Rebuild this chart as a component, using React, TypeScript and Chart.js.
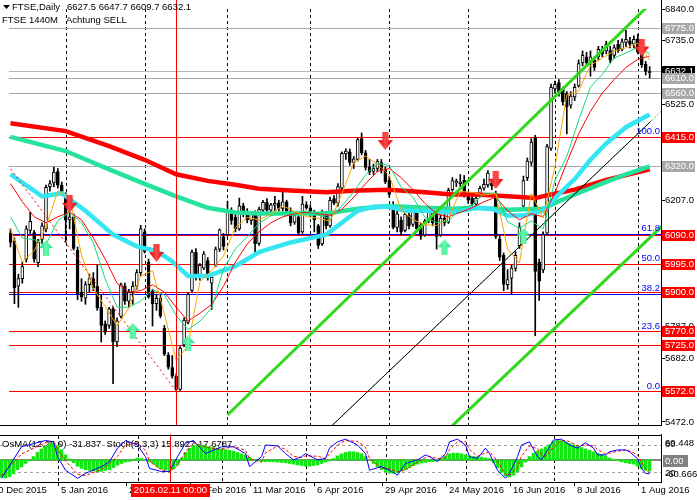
import React, { useEffect, useRef } from "react";
import { Chart, registerables } from "chart.js";
Chart.register(...registerables);

// ---------------- data ----------------
const opens = [
6095,6070,5920,5945,6010,6105,6098,5998,6075,6110,
6250,6262,6300,6255,6225,6140,6150,6040,5900,5880,
5925,5945,5920,5850,5795,5790,5845,5735,5820,5920,
5870,5900,5920,5965,6100,6000,5905,5862,5880,5780,
5692,5650,5622,5578,5725,5800,5906,6033,5948,5980,
6005,5930,5990,6043,6084,6091,6164,6148,6110,6186,
6165,6138,6158,6062,6172,6198,6172,6188,6196,6178,
6200,6170,6132,6150,6100,6190,6180,6165,6120,6060,
6160,6120,6210,6195,6245,6358,6365,6330,6340,6409,
6362,6315,6300,6310,6330,6304,6272,6180,6115,6138,
6105,6155,6125,6165,6122,6090,6138,6165,6160,6090,
6145,6132,6240,6262,6260,6271,6225,6212,6192,6222,
6245,6256,6262,6223,6075,6022,5925,5947,5979,6054,
6185,6280,6330,6414,6000,5974,6096,6377,6574,6595,
6574,6558,6520,6547,6584,6660,6680,6662,6669,6680,
6705,6700,6701,6685,6722,6705,6728,6733,6722,6740,
6690,6655,6627.5];
const highs = [
6110,6080,5960,6000,6120,6165,6105,6075,6130,6255,
6270,6315,6310,6265,6230,6175,6160,6050,5945,5935,
5960,5965,5990,5890,5805,5850,5852,5815,5930,5930,
5910,5935,5975,6122,6110,6010,5910,5890,5890,5790,
5700,5690,5630,5720,5815,5898,6040,6045,5995,6035,
6015,5960,6050,6110,6095,6202,6180,6160,6212,6195,
6177,6165,6170,6182,6205,6210,6195,6218,6205,6234,
6205,6180,6165,6155,6218,6200,6190,6172,6125,6172,
6168,6215,6220,6260,6365,6375,6375,6350,6410,6428,
6370,6340,6325,6340,6340,6315,6285,6200,6170,6150,
6170,6165,6175,6172,6130,6142,6178,6175,6170,6155,
6168,6245,6280,6275,6290,6287,6232,6220,6222,6252,
6275,6303,6275,6235,6090,6030,5975,5990,6035,6130,
6285,6345,6409,6420,6010,6100,6390,6590,6600,6605,
6580,6565,6565,6590,6670,6700,6695,6700,6680,6715,
6715,6732,6715,6720,6735,6740,6769,6745,6750,6755,
6698,6665,6647.7];
const lows = [
6050,5862,5850,5930,6000,6095,6000,5985,6060,6100,
6235,6250,6245,6220,6065,6110,6040,5875,5870,5860,
5900,5905,5840,5735,5760,5780,5597,5720,5815,5860,
5850,5860,5910,5955,6030,5880,5788,5840,5815,5690,
5645,5615,5572,5575,5720,5795,5900,5940,5940,5975,
5940,5843,5985,6035,6040,6085,6125,6100,6105,6150,
6130,6125,6027,6055,6160,6165,6155,6170,6170,6170,
6160,6120,6125,6090,6095,6175,6150,6100,6045,6055,
6110,6115,6190,6185,6240,6340,6320,6310,6335,6355,
6305,6290,6290,6300,6295,6260,6215,6110,6100,6090,
6100,6110,6118,6100,6075,6085,6130,6120,6043,6085,
6120,6128,6235,6250,6250,6215,6195,6180,6185,6215,
6238,6248,6240,6078,6005,5905,5910,5894,5970,6045,
6175,6270,6320,5756,5873,5965,6090,6370,6560,6550,
6520,6425,6510,6535,6580,6650,6650,6616,6635,6670,
6680,6690,6660,6675,6695,6700,6715,6710,6710,6690,
6645,6620,6609.7];
const closes = [
6065,5915,5945,5985,6110,6135,6010,6065,6120,6248,
6260,6298,6255,6228,6140,6150,6045,5895,5885,5925,
5945,5915,5848,5790,5768,5845,5735,5805,5925,5870,
5900,5920,5965,6110,6035,5885,5862,5880,5822,5695,
5652,5622,5578,5715,5808,5893,6033,5948,5989,6027,
5947,5950,6043,6107,6052,6170,6138,6110,6186,6165,
6140,6158,6060,6175,6198,6172,6190,6195,6178,6200,
6170,6130,6155,6097,6192,6180,6160,6140,6055,6160,
6120,6205,6195,6250,6360,6368,6330,6342,6406,6362,
6314,6298,6310,6335,6305,6266,6224,6115,6160,6100,
6158,6120,6168,6110,6086,6135,6168,6130,6085,6145,
6130,6238,6270,6268,6266,6223,6205,6192,6212,6244,
6258,6295,6252,6085,6016,5926,5942,5980,6022,6117,
6270,6335,6398,5969,5937,6091,6383,6579,6589,6558,
6531,6515,6550,6579,6658,6685,6660,6680,6645,6705,
6690,6722,6669,6711,6701,6730,6738,6722,6738,6696,
6653,6632,6632.1];

// thin moving averages (sampled)
const maThinIdx = [0,3,6,9,12,15,18,21,24,27,30,33,36,39,42,45,48,51,54,57,60,63,66,69,72,75,78,81,84,87,90,93,96,99,102,105,108,111,114,117,120,123,126,129,132,135,138,141,144,147,150,153,156,159,162];
const maFast = [6110,6000,6037,6116,6236,6214,6023,5913,5853,5789,5847,5953,5971,5829,5674,5723,5934,5972,6020,6115,6148,6140,6159,6187,6167,6151,6145,6136,6226,6330,6351,6324,6288,6173,6141,6124,6121,6146,6234,6231,6222,6227,6044,5997,6228,6146,6316,6554,6567,6652,6676,6699,6710,6725,6670];
const maMid = [6150,6080,6074,6058,6137,6165,6130,6064,5944,5851,5850,5871,5909,5891,5823,5776,5804,5848,5977,6044,6084,6128,6154,6164,6163,6169,6156,6144,6186,6233,6289,6327,6320,6249,6215,6149,6131,6135,6178,6189,6228,6229,6133,6112,6136,6110,6272,6350,6470,6580,6622,6676,6693,6712,6690];
const maSlow = [6260,6200,6150,6130,6150,6165,6140,6080,6010,5930,5900,5905,5925,5900,5850,5805,5830,5860,5920,6000,6060,6100,6130,6150,6160,6165,6160,6155,6175,6215,6260,6300,6310,6280,6240,6195,6160,6150,6165,6180,6200,6215,6170,6140,6160,6150,6230,6330,6425,6500,6560,6605,6645,6672,6683];

// thick moving averages
const ma200Idx = [0,14,25,34,42,50,57,63,71,80,88,96,105,112,118,126,133,137,143,151,156,162];
const ma200 = [6460,6434,6384,6339,6291,6269,6256,6243,6237,6231,6237,6240,6231,6224,6224,6218,6212,6224,6240,6272,6288,6307];
const ma100Idx = [0,14,25,34,42,50,57,63,71,80,88,96,105,112,118,126,135,139,143,151,156,162];
const ma100 = [6415,6368,6307,6259,6218,6180,6164,6161,6161,6161,6177,6186,6180,6177,6180,6173,6177,6202,6224,6266,6291,6317];
const ma50Idx = [0,8,13,19,26,32,37,41,45,50,57,63,71,80,88,92,96,100,105,112,118,122,126,130,135,138,143,147,151,156,162];
const ma50 = [6291,6218,6228,6170,6091,6052,6037,6002,5954,5954,5986,6033,6065,6091,6170,6183,6183,6170,6170,6164,6180,6177,6154,6154,6170,6212,6275,6339,6393,6447,6489];

// trend lines
const chUpperIdx = [55, 166];
const chUpperVal = [5493, 6905];
const chLowerIdx = [112, 166];
const chLowerVal = [5458, 6130];
const midLineIdx = [81, 162.25];
const midLineVal = [5452, 6466];
const midExtIdx = [81, 166];
const midExtVal = [5452, 6513];
const fibDiagIdx = [-6, 42];
const fibDiagVal = [6415, 5572];

// signals
const sellIdx = [15, 37, 95, 123, 160];
const sellVal = [6193, 6030, 6401, 6272, 6711];
const buyIdx = [9, 31, 45, 110, 130];
const buyVal = [6046, 5772, 5731, 6049, 6087];

// oscillators
const osma = [
-50,-52,-48,-40,-28,-20,-10,-2,10,22,32,40,47,49,42,30,15,3,-8,
-18,-24,-28,-30,-32,-34,-33,-30,-28,-22,-15,-10,-6,-4,2,6,4,0,-5,
-12,-20,-26,-29,-30,-26,-15,5,22,34,42,44,43,41,38,36,34,32,30,28,26,
22,18,14,8,2,-2,-4,-5,-5,-5,-6,-7,-8,-10,-12,-14,-16,-18,-18,-16,-14,-10,-6,-2,4,
12,18,22,24,24,22,18,10,0,-10,-20,-28,-34,-38,-38,-36,-32,-28,-22,-16,
-12,-9,-7,-5,-4,-2,4,12,18,20,20,18,15,12,10,10,8,6,4,
-8,-22,-36,-46,-49,-44,-34,-20,-6,10,20,26,32,38,44,
54,58,56,52,48,44,40,36,32,28,24,20,16,12,6,2,-2,-5,-8,-10,-12,-18,-25,-30,-32];
const stochIdx = [0,5,11,13,14,16,19,21,25,27,29,31,34,36,37,40,42,44,46,48,51,55,58,61,62,65,66,69,71,73,75,76,79,81,82,84,86,89,91,92,95,97,99,101,104,106,107,109,111,112,114,116,117,119,121,122,124,126,127,129,130,132,134,135,136,138,140,142,144,146,148,149,151,152,154,156,157,159,160,161,162];
const stochMain = [6,76,90,87,54,24,6,17,32,43,73,90,80,54,28,21,21,54,84,90,61,76,76,61,32,54,80,78,61,47,54,61,47,50,73,87,93,80,61,24,32,24,13,39,47,58,54,43,61,87,93,80,54,50,73,61,24,6,17,54,80,87,54,47,61,91,93,80,73,85,73,58,58,65,69,69,65,50,28,17,15.9];
const stochSignal = [12,60,85,88,70,45,15,12,26,38,55,80,85,68,45,25,20,35,65,85,75,70,77,68,50,42,62,78,70,55,52,56,55,50,60,80,90,88,75,50,28,28,20,25,42,52,55,50,52,70,87,88,70,55,62,65,45,15,12,30,55,78,72,58,55,75,90,88,78,80,78,70,60,62,66,69,67,58,42,28,17.7];

// levels & labels
const axisTicks = [6840, 6735, 6525, 6207, 5787, 5682, 5472];
const grayLevels = [6775, 6610, 6560, 6320];
const redLevels = [6415, 6090, 5995, 5900, 5770, 5725, 5572];
const fibValues = [6415, 6093, 5993.5, 5894, 5770.9, 5572];
const fibLabels = ["100.0", "61.8", "50.0", "38.2", "23.6", "0.0"];
const lastPrice = 6632.1;
const gridIdx = [14, 34, 55, 76, 96, 116, 138, 159];
const dateTickIdx = [-3, 14, 31, 47, 62, 78, 95, 111, 127, 143, 159];
const dateLabels = ["10 Dec 2015", "5 Jan 2016", "27 Jan 2016", "19 Feb 2016", "11 Mar 2016", "6 Apr 2016", "29 Apr 2016", "24 May 2016", "16 Jun 2016", "8 Jul 2016", "1 Aug 2016"];
const crossIdx = 42;
const crossLabel = "2016.02.11 00:00";
const titleMain = "FTSE,Daily";
const titleOhlc = "6627.5 6647.7 6609.7 6632.1";
const titleSub1 = "FTSE 1440M";
const titleSub2 = "Achtung SELL";
const oscTitle = "OsMA(12,26,9) -31.837  Stoch(5,3,3) 15.8927 17.6787";

const X_MIN = -0.375;
const X_MAX = 164.875;
const Y_MIN = 5460;
const Y_MAX = 6838.7;
const FONT = "9.5px 'Liberation Sans', Arial, sans-serif";

function makeArrow(dir: "up" | "down", c1: string, c2: string) {
  const c = document.createElement("canvas");
  const w = dir === "down" ? 15 : 14;
  const h = dir === "down" ? 18 : 16;
  c.width = w;
  c.height = h;
  const g = c.getContext("2d")!;
  const grad = g.createLinearGradient(0, 0, w, 0);
  grad.addColorStop(0, c1);
  grad.addColorStop(0.5, c2);
  grad.addColorStop(1, c1);
  g.fillStyle = grad;
  g.beginPath();
  if (dir === "down") {
    g.moveTo(4.5, 0); g.lineTo(10.5, 0); g.lineTo(10.5, 8); g.lineTo(15, 8);
    g.lineTo(7.5, 18); g.lineTo(0, 8); g.lineTo(4.5, 8);
  } else {
    g.moveTo(7, 0); g.lineTo(14, 8); g.lineTo(10, 8); g.lineTo(10, 16);
    g.lineTo(4, 16); g.lineTo(4, 8); g.lineTo(0, 8);
  }
  g.closePath();
  g.fill();
  return c;
}

const pts = (xs: number[], ys: number[]) => xs.map((x, i) => ({ x, y: ys[i] }));
const lineDs = (xs: number[], ys: number[], color: string, width: number, order: number, extra: any = {}) => ({
  type: "line",
  data: pts(xs, ys),
  borderColor: color,
  borderWidth: width,
  pointRadius: 0,
  tension: 0,
  fill: false,
  order,
  ...extra,
});

export default function App() {
  const mainRef = useRef<HTMLCanvasElement>(null);
  const subRef = useRef<HTMLCanvasElement>(null);

  useEffect(() => {
    document.body.style.margin = "0";
    const idx = opens.map((_, i) => i);
    const arrowDown = makeArrow("down", "#e00000", "#ff4a4a");
    const arrowUp = makeArrow("up", "#14d878", "#6dfab4");

    const mainDecor = {
      id: "mainDecor",
      beforeDatasetsDraw(chart: any) {
        const { ctx, chartArea: a, scales } = chart;
        const x = scales.x, y = scales.y;
        ctx.save();
        ctx.strokeStyle = "#000";
        ctx.lineWidth = 1;
        ctx.setLineDash([3, 3]);
        gridIdx.forEach((g) => {
          const px = Math.round(x.getPixelForValue(g)) + 0.5;
          ctx.beginPath(); ctx.moveTo(px, a.top); ctx.lineTo(px, a.bottom); ctx.stroke();
        });
        ctx.setLineDash([]);
        const hline = (v: number, color: string) => {
          const py = Math.round(y.getPixelForValue(v)) + 0.5;
          ctx.strokeStyle = color;
          ctx.beginPath(); ctx.moveTo(a.left, py); ctx.lineTo(a.right, py); ctx.stroke();
        };
        grayLevels.forEach((v) => hline(v, "#a8a8a8"));
        hline(lastPrice, "#b8b8b8");
        fibValues.forEach((v) => hline(v, "#0000ff"));
        redLevels.forEach((v) => hline(v, "#ff0000"));
        ctx.restore();
      },
      afterDatasetsDraw(chart: any) {
        const { ctx, chartArea: a, scales } = chart;
        const x = scales.x, y = scales.y;
        ctx.save();
        // crosshair
        const cx = Math.round(x.getPixelForValue(crossIdx)) + 0.5;
        ctx.strokeStyle = "#ff0000"; ctx.lineWidth = 1;
        ctx.beginPath(); ctx.moveTo(cx, 0); ctx.lineTo(cx, a.bottom); ctx.stroke();
        ctx.font = FONT;
        // fib labels
        ctx.fillStyle = "#0000ff"; ctx.textAlign = "right"; ctx.textBaseline = "bottom";
        fibValues.forEach((v, i) => {
          ctx.fillText(fibLabels[i], a.right - 1, y.getPixelForValue(v) - 0.5);
        });
        // frames
        ctx.fillStyle = "#000";
        ctx.fillRect(a.right, 0, 1, a.bottom + 1);
        ctx.fillRect(0, a.bottom, a.right + 1, 1);
        // axis ticks
        ctx.textAlign = "left"; ctx.textBaseline = "middle";
        axisTicks.forEach((v) => {
          const py = y.getPixelForValue(v);
          ctx.fillRect(a.right + 1, Math.round(py), 3, 1);
          ctx.fillText(v.toFixed(1), a.right + 4, py + 0.5);
        });
        const box = (v: number, bg: string) => {
          const py = Math.round(y.getPixelForValue(v));
          ctx.fillStyle = bg;
          ctx.fillRect(a.right + 1, py - 5, 33, 11);
          ctx.fillStyle = "#fff";
          ctx.fillText(v.toFixed(1), a.right + 4, py + 0.5);
        };
        box(lastPrice, "#000");
        grayLevels.forEach((v) => box(v, "#a8a8a8"));
        redLevels.forEach((v) => box(v, "#ff0000"));
        // title text
        ctx.fillStyle = "#000";
        ctx.beginPath(); ctx.moveTo(3, 5); ctx.lineTo(10, 5); ctx.lineTo(6.5, 9); ctx.closePath(); ctx.fill();
        ctx.fillText(titleMain, 12, 7);
        ctx.fillText(titleOhlc, 67, 7);
        ctx.fillText(titleSub1, 2, 20);
        ctx.fillText(titleSub2, 66, 20);
        ctx.restore();
      },
    };

    const main = new Chart(mainRef.current!, {
      type: "bar",
      data: {
        datasets: [
          {
            type: "bar",
            data: idx.map((i) => ({ x: i, y: [lows[i], highs[i]] })),
            backgroundColor: "#000",
            barThickness: 1,
            grouped: false,
            order: 30,
          } as any,
          {
            type: "bar",
            data: idx.map((i) => ({ x: i, y: [opens[i], closes[i]] })),
            backgroundColor: idx.map((i) => (closes[i] >= opens[i] ? "#ffffff" : "#000000")),
            borderColor: "#000",
            borderWidth: 1,
            borderSkipped: false,
            barThickness: 3,
            minBarLength: 1,
            grouped: false,
            order: 29,
          } as any,
          lineDs(ma200Idx, ma200, "#ff0000", 4.5, 20),
          lineDs(ma100Idx, ma100, "#25e39c", 4.5, 19),
          lineDs(ma50Idx, ma50, "#33e6f2", 4.5, 18),
          lineDs(midExtIdx, midExtVal, "#22cc22", 1, 16, { borderDash: [2, 2] }),
          lineDs(midLineIdx, midLineVal, "#000000", 1, 15),
          lineDs(chUpperIdx, chUpperVal, "#2ed91a", 3, 14),
          lineDs(chLowerIdx, chLowerVal, "#2ed91a", 3, 13),
          lineDs(fibDiagIdx, fibDiagVal, "#ff0000", 1, 12, { borderDash: [2, 3] }),
          lineDs(maThinIdx, maSlow, "#ff0000", 1, 7),
          lineDs(maThinIdx, maMid, "#10dd78", 1, 6),
          lineDs(maThinIdx, maFast, "#ffa500", 1, 5),
          {
            type: "line",
            data: pts(sellIdx, sellVal),
            showLine: false,
            pointStyle: arrowDown,
            pointRadius: 8,
            order: 1,
          } as any,
          {
            type: "line",
            data: pts(buyIdx, buyVal),
            showLine: false,
            pointStyle: arrowUp,
            pointRadius: 8,
            order: 1,
          } as any,
        ] as any,
      },
      options: {
        animation: false,
        responsive: false,
        events: [],
        layout: { padding: { left: 0, right: 36, top: 0, bottom: 1 } },
        scales: {
          x: { type: "linear", min: X_MIN, max: X_MAX, display: false, offset: false },
          y: { type: "linear", min: Y_MIN, max: Y_MAX, display: false },
        },
        plugins: { legend: { display: false }, tooltip: { enabled: false } },
      } as any,
      plugins: [mainDecor as any],
    });

    const subDecor = {
      id: "subDecor",
      beforeDatasetsDraw(chart: any) {
        const { ctx, chartArea: a, scales } = chart;
        const x = scales.x, yO = scales.yO, yS = scales.yS;
        ctx.save();
        ctx.strokeStyle = "#000"; ctx.lineWidth = 1; ctx.setLineDash([3, 3]);
        gridIdx.forEach((g) => {
          const px = Math.round(x.getPixelForValue(g)) + 0.5;
          ctx.beginPath(); ctx.moveTo(px, a.top); ctx.lineTo(px, a.bottom + 1); ctx.stroke();
        });
        ctx.strokeStyle = "#a0a0a0";
        [80, 20].forEach((v) => {
          const py = Math.round(yS.getPixelForValue(v)) + 0.5;
          ctx.beginPath(); ctx.moveTo(a.left, py); ctx.lineTo(a.right, py); ctx.stroke();
        });
        ctx.setLineDash([]);
        const zy = Math.round(yO.getPixelForValue(0));
        ctx.strokeStyle = "#888888"; ctx.lineWidth = 2;
        ctx.beginPath(); ctx.moveTo(a.left, zy); ctx.lineTo(a.right, zy); ctx.stroke();
        ctx.font = FONT; ctx.fillStyle = "#000"; ctx.textBaseline = "middle"; ctx.textAlign = "left";
        ctx.fillText(oscTitle, 2, 10);
        ctx.restore();
      },
      afterDatasetsDraw(chart: any) {
        const { ctx, chartArea: a, scales } = chart;
        const x = scales.x;
        ctx.save();
        const cx = Math.round(x.getPixelForValue(crossIdx)) + 0.5;
        ctx.strokeStyle = "#ff0000"; ctx.lineWidth = 1;
        ctx.beginPath(); ctx.moveTo(cx, 0); ctx.lineTo(cx, a.bottom + 1); ctx.stroke();
        ctx.fillStyle = "#000";
        ctx.fillRect(0, 1, a.right + 1, 1);
        ctx.fillRect(0, a.bottom + 1, a.right + 1, 1);
        ctx.fillRect(a.right, 0, 1, a.bottom + 2);
        ctx.font = FONT; ctx.textBaseline = "middle"; ctx.textAlign = "left";
        // right labels
        ctx.fillText("80", a.right + 4, 10);
        ctx.fillText("69.448", a.right + 4, 9);
        ctx.fillText("20", a.right + 4, 39);
        ctx.fillText("-60.666", a.right + 4, 40);
        ctx.fillStyle = "#808080";
        ctx.fillRect(a.right + 2, 21, 25, 12);
        ctx.fillStyle = "#fff";
        ctx.fillText("0.00", a.right + 4, 27.5);
        // date axis
        ctx.fillStyle = "#000";
        dateTickIdx.forEach((t, i) => {
          const px = Math.round(x.getPixelForValue(t));
          ctx.fillRect(px, a.bottom + 1, 1, 4);
          ctx.fillText(dateLabels[i], px + 3, 56);
        });
        ctx.textAlign = "center";
        const w = ctx.measureText(crossLabel).width + 6;
        ctx.fillStyle = "#ff0000";
        ctx.fillRect(Math.round(cx - w / 2), 50, Math.round(w), 13);
        ctx.fillStyle = "#fff";
        ctx.fillText(crossLabel, cx, 56.5);
        ctx.restore();
      },
    };

    const sub = new Chart(subRef.current!, {
      type: "bar",
      data: {
        datasets: [
          {
            type: "bar",
            data: idx.map((i) => ({ x: i, y: osma[i] })),
            backgroundColor: "#14e614",
            barThickness: 3,
            grouped: false,
            yAxisID: "yO",
            order: 5,
          } as any,
          {
            type: "line",
            data: pts(stochIdx, stochSignal),
            borderColor: "#ff0000",
            borderWidth: 1,
            borderDash: [3, 2],
            pointRadius: 0,
            tension: 0,
            yAxisID: "yS",
            order: 2,
          } as any,
          {
            type: "line",
            data: pts(stochIdx, stochMain),
            borderColor: "#0000ff",
            borderWidth: 1,
            pointRadius: 0,
            tension: 0,
            yAxisID: "yS",
            order: 1,
          } as any,
        ],
      },
      options: {
        animation: false,
        responsive: false,
        events: [],
        layout: { padding: { left: 0, right: 36, top: 2, bottom: 19 } },
        scales: {
          x: { type: "linear", min: X_MIN, max: X_MAX, display: false, offset: false },
          yO: { type: "linear", position: "right", min: -60.666, max: 69.448, display: false },
          yS: { type: "linear", position: "right", min: 0, max: 100, display: false },
        },
        plugins: { legend: { display: false }, tooltip: { enabled: false } },
      } as any,
      plugins: [subDecor as any],
    });

    return () => {
      main.destroy();
      sub.destroy();
    };
  }, []);

  return (
    <div style={{ position: "fixed", left: 0, top: 0, width: 697, height: 500, background: "#ffffff", overflow: "hidden" }}>
      <canvas ref={mainRef} width={697} height={434} style={{ position: "absolute", left: 0, top: 0, width: 697, height: 434 }} />
      <canvas ref={subRef} width={697} height={66} style={{ position: "absolute", left: 0, top: 434, width: 697, height: 66 }} />
    </div>
  );
}
